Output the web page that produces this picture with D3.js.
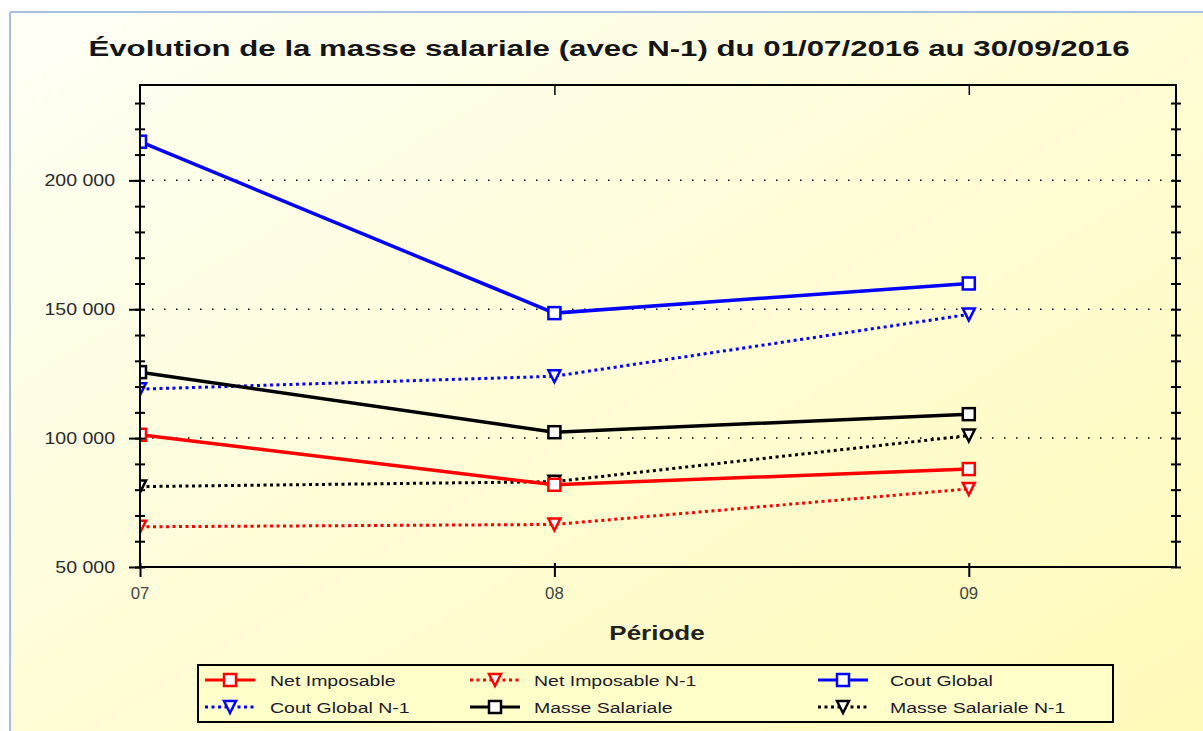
<!DOCTYPE html>
<html>
<head>
<meta charset="utf-8">
<script src="https://cdn.jsdelivr.net/npm/d3@7"></script>
<style>
  body { margin: 0; background: #fff; }
  svg { display: block; font-family: "Liberation Sans", Arial, sans-serif; }
</style>
</head>
<body>
<svg width="1203" height="731"></svg>
<script>
// periods (months) and values
var periods = ["07", "08", "09"];
var netImposable = [101300, 81900, 88000];
var netImposableN1 = [65600, 66500, 80300];
var coutGlobal = [215000, 148500, 160000];
var coutGlobalN1 = [119000, 124000, 148000];
var masseSalariale = [125600, 102300, 109300];
var masseSalarialeN1 = [81200, 83100, 101000];

var yMajor = [50000, 100000, 150000, 200000];
var gridValues = [100000, 150000, 200000];

var series = [
  {name: "Net Imposable", values: netImposable, color: "#ff0000", dotted: false},
  {name: "Net Imposable N-1", values: netImposableN1, color: "#ff0000", dotted: true},
  {name: "Cout Global", values: coutGlobal, color: "#0000ff", dotted: false},
  {name: "Cout Global N-1", values: coutGlobalN1, color: "#0000ff", dotted: true},
  {name: "Masse Salariale", values: masseSalariale, color: "#000000", dotted: false},
  {name: "Masse Salariale N-1", values: masseSalarialeN1, color: "#000000", dotted: true}
];

var svg = d3.select("svg");

var defs = svg.append("defs");
var grad = defs.append("linearGradient").attr("id", "bg")
  .attr("x1", "0").attr("y1", "0").attr("x2", "1").attr("y2", "1");
grad.append("stop").attr("offset", "0").attr("stop-color", "#fffff6");
grad.append("stop").attr("offset", "0.5").attr("stop-color", "#fffdd6");
grad.append("stop").attr("offset", "1").attr("stop-color", "#fffab8");

// panel
svg.append("rect").attr("x", 10).attr("y", 12).attr("width", 1200).attr("height", 730)
  .attr("fill", "url(#bg)");
svg.append("line").attr("x1", 10).attr("y1", 12).attr("x2", 1203).attr("y2", 12)
  .attr("stroke", "#a9bfe2").attr("stroke-width", 2);
svg.append("line").attr("x1", 10).attr("y1", 12).attr("x2", 10).attr("y2", 731)
  .attr("stroke", "#a9bfe2").attr("stroke-width", 2);

var pLeft = 140, pRight = 1176, pTop = 85, pBottom = 567;

var x = d3.scaleLinear().domain([0, 2.5]).range([pLeft, pRight]);
var y = d3.scaleLinear().domain([50000, 237000]).range([pBottom, pTop]);

var fr = d3.formatLocale({decimal: ",", thousands: " ", grouping: [3], currency: ["", " €"]});
var fmt = fr.format(",d");

function wideText(g, tx, ty, str, anchor, sx) {
  return g.append("text")
    .attr("transform", "translate(" + tx + "," + ty + ") scale(" + (sx || 1.3) + ",1)")
    .attr("text-anchor", anchor)
    .text(str);
}

// title
wideText(svg, 609, 56, "Évolution de la masse salariale (avec N-1) du 01/07/2016 au 30/09/2016", "middle", 1.42)
  .attr("font-size", 22).attr("font-weight", "bold").attr("fill", "#151515");

// grid
svg.append("g").selectAll("line").data(gridValues).enter().append("line")
  .attr("x1", pLeft).attr("x2", pRight)
  .attr("y1", function(d) { return y(d); }).attr("y2", function(d) { return y(d); })
  .attr("stroke", "#000").attr("stroke-width", 1.5)
  .attr("stroke-dasharray", "1.5,10.5");

// series
var clip = defs.append("clipPath").attr("id", "plotClip");
clip.append("rect").attr("x", pLeft).attr("y", pTop).attr("width", pRight - pLeft).attr("height", pBottom - pTop);

var plot = svg.append("g").attr("clip-path", "url(#plotClip)");
var line = d3.line().x(function(d, i) { return x(i); }).y(function(d) { return y(d); });

function drawMarker(g, cx, cy, s) {
  if (s.dotted) {
    g.append("path")
      .attr("d", "M" + (cx - 6) + "," + (cy - 6) + "L" + (cx + 6) + "," + (cy - 6) + "L" + cx + "," + (cy + 6) + "Z")
      .attr("fill", "#fff").attr("stroke", s.color).attr("stroke-width", 2.5);
  } else {
    g.append("rect").attr("x", cx - 6).attr("y", cy - 6).attr("width", 12).attr("height", 12)
      .attr("fill", "#fff").attr("stroke", s.color).attr("stroke-width", 2.5);
  }
}

// dotted series first, then solid ones on top
var order = [1, 3, 5, 0, 4, 2];
order.forEach(function(k) {
  var s = series[k];
  plot.append("path").datum(s.values)
    .attr("d", line)
    .attr("fill", "none")
    .attr("stroke", s.color)
    .attr("stroke-width", s.dotted ? 3 : 3.5)
    .attr("stroke-dasharray", s.dotted ? "3,3.5" : null);
});
order.forEach(function(k) {
  var s = series[k];
  s.values.forEach(function(v, i) { drawMarker(plot, x(i), y(v), s); });
});

// frame
svg.append("rect").attr("x", pLeft).attr("y", pTop).attr("width", pRight - pLeft).attr("height", pBottom - pTop)
  .attr("fill", "none").attr("stroke", "#000").attr("stroke-width", 2);

// y axis
var minor = d3.range(50000, 237000, 10000);
var yAxis = svg.append("g").attr("transform", "translate(" + pLeft + ",0)")
  .call(d3.axisLeft(y).tickValues(yMajor).tickSize(11).tickFormat(""));
yAxis.select(".domain").remove();
yAxis.selectAll("line").attr("stroke", "#000").attr("stroke-width", 2);
yMajor.forEach(function(v) {
  wideText(svg, 115, y(v) + 6, fmt(v), "end", 1.15).attr("font-size", 17).attr("fill", "#2a2a2a");
});

svg.append("g").attr("transform", "translate(" + (pLeft + 5) + ",0)")
  .call(d3.axisLeft(y).tickValues(minor).tickSize(10).tickFormat(""))
  .call(function(g) { g.select(".domain").remove(); g.selectAll("line").attr("stroke", "#000").attr("stroke-width", 2); });
svg.append("g").attr("transform", "translate(" + (pRight + 5) + ",0)")
  .call(d3.axisLeft(y).tickValues(minor).tickSize(10).tickFormat(""))
  .call(function(g) { g.select(".domain").remove(); g.selectAll("line").attr("stroke", "#000").attr("stroke-width", 2); });

// x axis
svg.append("g").attr("transform", "translate(0," + (pBottom - 4) + ")")
  .call(d3.axisBottom(x).tickValues([0, 1, 2]).tickSize(14).tickFormat(""))
  .call(function(g) { g.select(".domain").remove(); g.selectAll("line").attr("stroke", "#000").attr("stroke-width", 2); });
svg.append("g").attr("transform", "translate(0," + pTop + ")")
  .call(d3.axisBottom(x).tickValues([1, 2]).tickSize(10).tickFormat(""))
  .call(function(g) { g.select(".domain").remove(); g.selectAll("line").attr("stroke", "#000").attr("stroke-width", 1.5); });

periods.forEach(function(p, i) {
  wideText(svg, x(i), 599, p, "middle", 1.05).attr("font-size", 16).attr("fill", "#444");
});

wideText(svg, 657, 640, "Période", "middle", 1.3).attr("font-size", 20).attr("font-weight", "bold").attr("fill", "#222");

// legend
var lg = svg.append("g");
lg.append("rect").attr("x", 198).attr("y", 665).attr("width", 915).attr("height", 57)
  .attr("fill", "#ffffca").attr("stroke", "#000").attr("stroke-width", 2);
var colLine = [205, 470, 818], colText = [270, 534, 890], rowY = [680, 707];
series.forEach(function(s, k) {
  var c = k % 3, r = Math.floor(k / 3);
  var x0 = colLine[c], x1 = colLine[c] + 50, yy = rowY[r];
  lg.append("line").attr("x1", x0).attr("x2", x1).attr("y1", yy).attr("y2", yy)
    .attr("stroke", s.color).attr("stroke-width", 3)
    .attr("stroke-dasharray", s.dotted ? "3,3.5" : null);
  drawMarker(lg, (x0 + x1) / 2, yy, s);
  wideText(lg, colText[c], yy + 6, s.name, "start", 1.3).attr("font-size", 15).attr("fill", "#1e1a2a");
});
</script>
</body>
</html>
